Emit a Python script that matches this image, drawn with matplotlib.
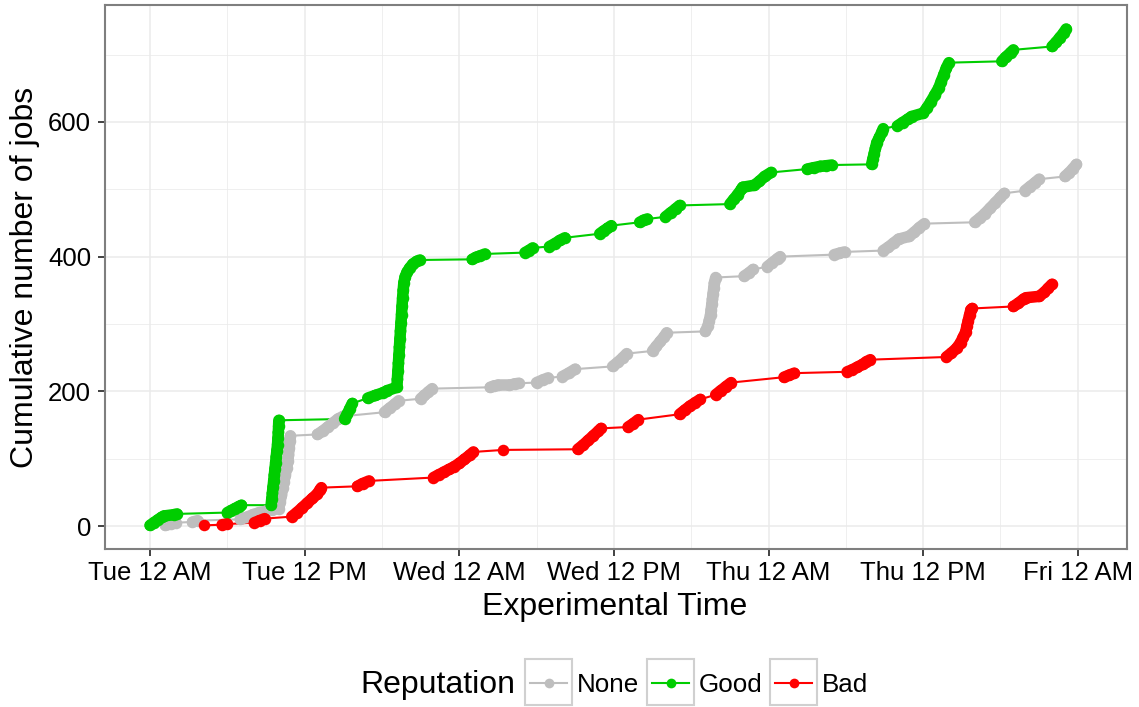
import matplotlib
matplotlib.use("Agg")
import numpy as np
import matplotlib.pyplot as plt
from matplotlib.lines import Line2D
from matplotlib.patches import Rectangle
from matplotlib.collections import LineCollection

plt.rcParams['font.family'] = ['Liberation Sans', 'DejaVu Sans']

# ---- data: (hours since Tue 12 AM, cumulative jobs) ----
none_h = [1.2, 1.6, 2.0, 3.3, 3.7,
          7.0, 7.5, 8.0, 8.5, 9.0, 9.5,
          10.0, 10.1, 10.2, 10.3, 10.4, 10.5, 10.6, 10.7, 10.75, 10.8, 10.85, 10.9,
          13.0, 13.4, 13.8, 14.2, 14.6, 15.0,
          18.2, 18.6, 19.0, 19.3,
          21.0, 21.3, 21.6, 21.9,
          26.4, 26.7, 27.0, 27.9, 28.3, 28.6,
          30.0, 30.5, 30.9, 32.0, 32.5, 33.0,
          35.9, 36.3, 36.7, 37.0,
          39.0, 39.3, 39.6, 39.9, 40.1,
          43.1, 43.3, 43.4, 43.5, 43.55, 43.6, 43.65, 43.7, 43.75, 43.8, 43.9,
          46.1, 46.5, 46.8, 47.9, 48.3, 48.7, 48.9,
          53.1, 53.5, 53.9,
          56.9, 57.3, 57.7, 58.1, 58.9, 59.3, 59.7, 60.1,
          64.0, 64.4, 64.8, 65.2, 65.6, 66.0, 66.3,
          67.9, 68.3, 68.7, 69.0,
          71.0, 71.3, 71.6, 71.9]
none_c = [1, 3, 5, 6, 8,
          10, 13, 17, 20, 22, 24,
          26, 36, 46, 56, 66, 76, 86, 96, 106, 116, 126, 134,
          136, 141, 147, 153, 159, 163,
          169, 175, 181, 186,
          189, 194, 199, 204,
          206, 208, 209, 209, 211, 212,
          213, 217, 220, 222, 227, 233,
          237, 243, 250, 256,
          260, 267, 274, 281, 287,
          289, 297, 305, 313, 321, 329, 337, 345, 353, 361, 369,
          371, 376, 381, 385, 391, 397, 400,
          403, 405, 407,
          409, 414, 420, 426, 430, 436, 443, 449,
          451, 457, 464, 472, 480, 488, 494,
          498, 504, 510, 515,
          519, 524, 530, 537]

good_h = [0.0, 0.3, 0.6, 0.9, 1.1, 1.9, 2.1,
          6.0, 6.3, 6.6, 6.9, 7.1,
          9.40, 9.45, 9.50, 9.55, 9.60, 9.65, 9.70, 9.75, 9.80, 9.85, 9.90, 9.93, 9.96, 9.98, 10.0,
          15.1, 15.3, 15.5, 15.7, 16.9, 17.5, 18.1, 18.4,
          19.16, 19.20, 19.24, 19.28, 19.32, 19.36, 19.40, 19.44, 19.48, 19.52, 19.56, 19.60,
          19.65, 19.70, 19.80, 19.95, 20.15, 20.40, 20.70, 20.95,
          25.0, 25.3, 25.6, 26.0,
          29.1, 29.4, 29.7, 31.0, 31.4, 31.8, 32.2,
          34.9, 35.2, 35.5, 35.8,
          38.0, 38.3, 38.6, 40.0, 40.4, 40.8, 41.1,
          45.0, 45.3, 45.6, 45.9, 46.0, 46.9, 47.3, 47.7, 48.2,
          51.0, 51.5, 52.0, 52.5, 52.9,
          56.0, 56.1, 56.2, 56.3, 56.4, 56.6, 56.8, 56.9,
          58.0, 58.4, 58.8, 59.1,
          60.0, 60.3, 60.6, 60.9, 61.2, 61.4, 61.6, 61.8, 62.0,
          66.1, 66.4, 66.8, 67.0,
          70.0, 70.3, 70.6, 70.9, 71.1]
good_c = [1, 5, 9, 13, 15, 17, 18,
          20, 23, 26, 29, 31,
          31, 40, 49, 58, 67, 76, 85, 94, 103, 112, 121, 130, 139, 148, 157,
          159, 166, 174, 182, 190, 194, 198, 201,
          206, 218, 230, 242, 254, 266, 278, 290, 302, 314, 326, 338,
          350, 361, 370, 377, 383, 389, 393, 395,
          396, 399, 401, 404,
          406, 409, 413, 415, 419, 424, 428,
          434, 438, 442, 446,
          451, 454, 456, 459, 465, 471, 476,
          478, 485, 492, 500, 503, 506, 512, 519, 525,
          530, 532, 534, 535, 536,
          537, 545, 553, 561, 569, 577, 585, 590,
          594, 599, 604, 608,
          613, 621, 630, 640, 650, 660, 670, 680, 688,
          690, 696, 703, 707,
          712, 718, 725, 732, 738]

bad_h = [4.2, 5.6, 6.0,
         8.1, 8.5, 8.9,
         11.0, 11.4, 11.8, 12.2, 12.6, 13.0, 13.2, 13.3,
         16.1, 16.5, 17.0,
         22.0, 22.4, 22.8, 23.2, 23.6, 24.0, 24.4, 24.8, 25.1,
         27.4,
         33.2, 33.6, 34.0, 34.4, 34.8, 35.0,
         37.1, 37.5, 37.9,
         41.1, 41.5, 41.9, 42.3, 42.7,
         43.9, 44.3, 44.7, 45.1,
         49.2, 49.6, 50.0,
         54.1, 54.5, 54.9, 55.3, 55.6, 55.9,
         61.8, 62.2, 62.6, 62.9, 63.1, 63.3, 63.4, 63.5, 63.6, 63.7, 63.8,
         67.0, 67.4, 67.8, 68.0,
         69.0, 69.4, 69.7, 70.0]
bad_c = [1, 2, 3,
         5, 8, 11,
         14, 20, 27, 34, 41, 48, 54, 57,
         59, 63, 67,
         72, 76, 80, 84, 88, 93, 99, 105, 110,
         113,
         114, 120, 127, 134, 141, 145,
         147, 152, 158,
         166, 172, 178, 183, 188,
         195, 201, 207, 213,
         221, 224, 227,
         229, 232, 236, 240, 244, 247,
         251, 257, 264, 272, 280, 288, 297, 305, 313, 321, 323,
         326, 331, 337, 339,
         341, 347, 353, 359]

series_names = ['None', 'Good', 'Bad']
series_colors = ['#BEBEBE', '#00CD00', '#FF0000']
series_h = [none_h, good_h, bad_h]
series_c = [none_c, good_c, bad_c]

x_ticks = [0, 12, 24, 36, 48, 60, 72]
x_tick_labels = ['Tue 12 AM', 'Tue 12 PM', 'Wed 12 AM', 'Wed 12 PM',
                 'Thu 12 AM', 'Thu 12 PM', 'Fri 12 AM']
y_ticks = [0, 200, 400, 600]

# ---- figure ----
W, H = 1139, 707
fig = plt.figure(figsize=(W / 100, H / 100), dpi=100)
L, R, T, B = 105, 1127, 5, 549
ax = fig.add_axes([L / W, 1 - B / H, (R - L) / W, (B - T) / H])
ax.set_xlim(-3.49, 75.82)
ax.set_ylim(-34.1, 773.6)

MS = 8.3  # marker diameter in points
for h, c, col in zip(series_h, series_c, series_colors):
    ax.plot(h, c, color=col, lw=1.5, solid_capstyle='round', zorder=3)

# dense runs of jobs: consecutive points close together on screen merge into a band
for h, c, col in zip(series_h, series_c, series_colors):
    pts = np.column_stack([h, c]).astype(float)
    disp = ax.transData.transform(pts)
    d = np.hypot(*(disp[1:] - disp[:-1]).T)
    segs = [pts[i:i + 2] for i in range(len(pts) - 1) if d[i] < 13]
    lc = LineCollection(segs, colors=col, linewidths=MS, capstyle='round',
                        joinstyle='round', zorder=4)
    ax.add_collection(lc)
    ax.plot(h, c, linestyle='none', marker='o', ms=MS, mec='none',
            color=col, zorder=4)

ax.set_xticks(x_ticks)
ax.set_xticklabels(x_tick_labels)
ax.set_yticks(y_ticks)
ax.set_xticks([6, 18, 30, 42, 54, 66], minor=True)
ax.set_yticks([100, 300, 500, 700], minor=True)
ax.grid(which='major', color='#EBEBEB', lw=1.1, zorder=0)
ax.grid(which='minor', color='#EBEBEB', lw=0.55, zorder=0)
ax.set_axisbelow(True)
ax.tick_params(which='major', length=5, width=1.3, color='#333333',
               labelsize=18.5, labelcolor='black', pad=4)
ax.tick_params(axis='y', which='major', pad=5)
ax.tick_params(which='minor', length=0)
for s in ax.spines.values():
    s.set_color('#7F7F7F')
    s.set_linewidth(1.5)

ax.set_xlabel('Experimental Time', fontsize=23)
ax.set_ylabel('Cumulative number of jobs', fontsize=23)
ax.xaxis.set_label_coords((615 - L) / (R - L), (B - 592) / (B - T))
ax.yaxis.set_label_coords((40 - L) / (R - L), 0.5)

# ---- legend (bottom, horizontal) ----
cy = 1 - 683 / H
fig.text(360 / W, 1 - 685 / H, 'Reputation', fontsize=23, va='center', ha='left')
boxes = [525, 647, 770]
labx = [577, 699, 822]
kw, kh = 47, 46
for bx, lx, name, col in zip(boxes, labx, series_names, series_colors):
    fig.patches.append(Rectangle((bx / W, (H - 682 - kh / 2) / H), kw / W, kh / H,
                                 transform=fig.transFigure, fill=True,
                                 facecolor='white', edgecolor='#D0D0D0', lw=1.5))
    fig.lines.append(Line2D([(bx + 5) / W, (bx + kw - 5) / W], [cy, cy],
                            transform=fig.transFigure, color=col, lw=1.5))
    fig.lines.append(Line2D([(bx + kw / 2) / W], [cy], transform=fig.transFigure,
                            marker='o', ms=7, mec='none', color=col))
    fig.text(lx / W, 1 - 685 / H, name, fontsize=18.7, va='center', ha='left')

fig.savefig('out.png', dpi=100)
